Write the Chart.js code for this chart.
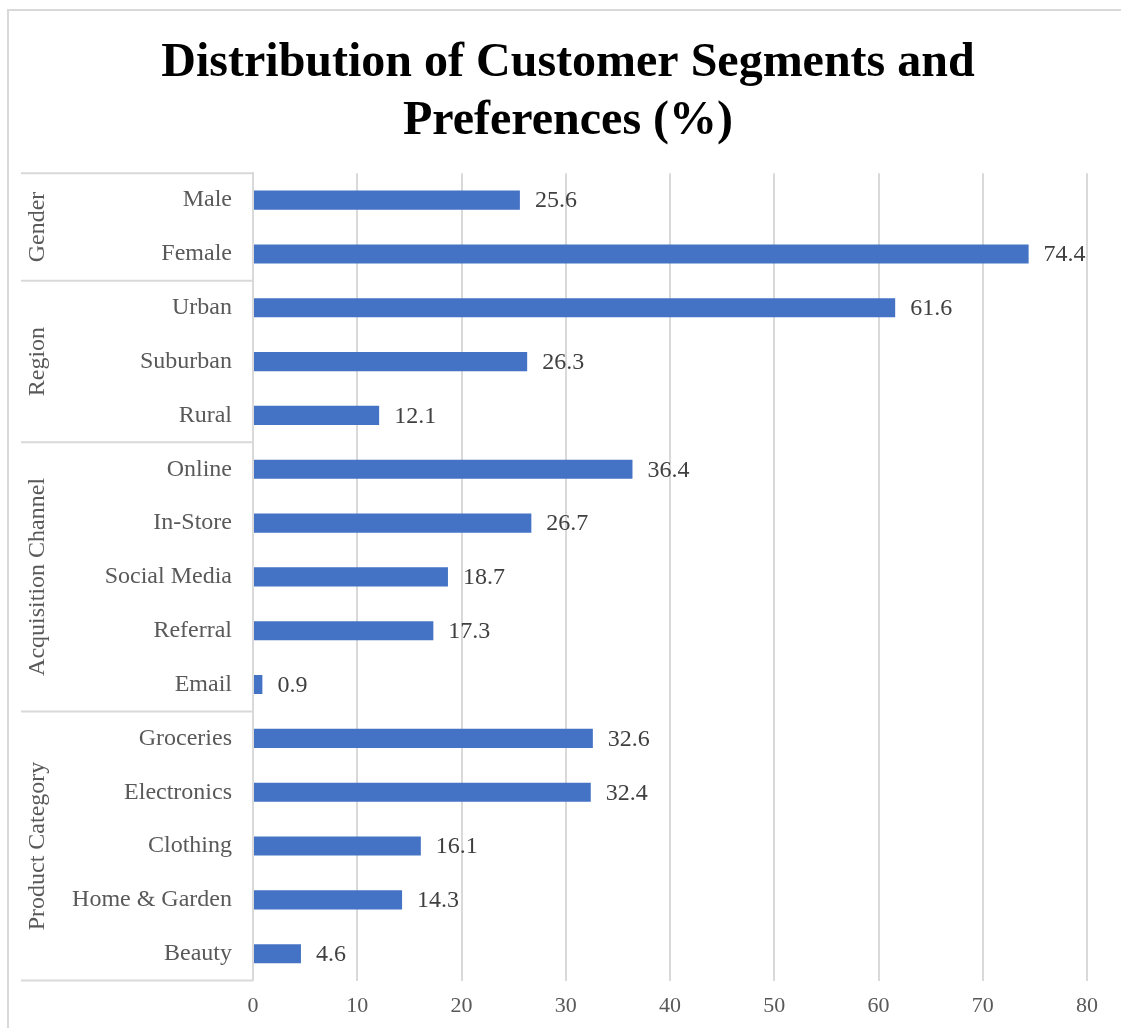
<!DOCTYPE html>
<html>
<head>
<meta charset="utf-8">
<title>Distribution of Customer Segments and Preferences (%)</title>
<script src="https://cdn.jsdelivr.net/npm/chart.js@4.4.1/dist/chart.umd.min.js"></script>
<style>
  html, body { margin: 0; padding: 0; background: #fff; }
  canvas { display: block; }
</style>
</head>
<body>
<canvas id="segChart" width="1121" height="1028"></canvas>
<script>
const categories = ['Male', 'Female', 'Urban', 'Suburban', 'Rural', 'Online', 'In-Store',
  'Social Media', 'Referral', 'Email', 'Groceries', 'Electronics', 'Clothing',
  'Home & Garden', 'Beauty'];
const values = [25.6, 74.4, 61.6, 26.3, 12.1, 36.4, 26.7, 18.7, 17.3, 0.9, 32.6, 32.4, 16.1, 14.3, 4.6];
const groups = ['Gender', 'Region', 'Acquisition Channel', 'Product Category'];
const groupSizes = [2, 3, 5, 5];

const serif = '"Liberation Serif", "Times New Roman", serif';
const lineGray = '#d9d9d9';
const textGray = '#595959';

// outer frame, group labels and separators on the category side
const groupAxis = {
  id: 'groupAxis',
  beforeDraw(chart) {
    const ctx = chart.ctx;
    ctx.save();
    ctx.strokeStyle = lineGray;
    ctx.lineWidth = 2;
    ctx.beginPath();
    ctx.moveTo(8, chart.height);
    ctx.lineTo(8, 10);
    ctx.lineTo(chart.width, 10);
    ctx.stroke();
    ctx.restore();
  },
  afterDraw(chart) {
    const ctx = chart.ctx;
    const y = chart.scales.y;
    const left = chart.chartArea.left;
    const half = (y.getPixelForValue(1) - y.getPixelForValue(0)) / 2;
    ctx.save();
    ctx.strokeStyle = lineGray;
    ctx.lineWidth = 2;
    ctx.fillStyle = textGray;
    ctx.font = '24px ' + serif;
    ctx.textAlign = 'center';
    ctx.textBaseline = 'middle';
    let start = 0;
    groups.forEach((name, i) => {
      const top = y.getPixelForValue(start) - half;
      const bottom = y.getPixelForValue(start + groupSizes[i] - 1) + half;
      ctx.beginPath();
      ctx.moveTo(21, top);
      ctx.lineTo(left, top);
      if (i === groups.length - 1) {
        ctx.moveTo(21, bottom);
        ctx.lineTo(left, bottom);
      }
      ctx.stroke();
      ctx.save();
      ctx.translate(38, (top + bottom) / 2);
      ctx.rotate(-Math.PI / 2);
      ctx.fillText(name, 0, 0);
      ctx.restore();
      start += groupSizes[i];
    });
    ctx.restore();
  }
};

// value labels at the end of each bar
const valueLabels = {
  id: 'valueLabels',
  afterDatasetsDraw(chart) {
    const ctx = chart.ctx;
    const meta = chart.getDatasetMeta(0);
    ctx.save();
    ctx.fillStyle = '#404040';
    ctx.font = '24px ' + serif;
    ctx.textAlign = 'left';
    ctx.textBaseline = 'middle';
    meta.data.forEach((bar, i) => {
      ctx.fillText(values[i].toFixed(1), bar.x + 15, bar.y + 1);
    });
    ctx.restore();
  }
};

new Chart(document.getElementById('segChart'), {
  type: 'bar',
  data: {
    labels: categories,
    datasets: [{
      data: values,
      backgroundColor: '#4472c4',
      barPercentage: 0.355,
      categoryPercentage: 1
    }]
  },
  options: {
    indexAxis: 'y',
    responsive: false,
    animation: false,
    layout: { padding: { left: 49, right: 34, top: 0, bottom: -3 } },
    plugins: {
      legend: { display: false },
      tooltip: { enabled: false },
      title: {
        display: true,
        text: ['Distribution of Customer Segments and', 'Preferences (%)'],
        color: '#000',
        font: { family: serif, size: 48, weight: 'bold', lineHeight: 1.2 },
        padding: { top: 35, bottom: 23 }
      }
    },
    scales: {
      x: {
        min: 0,
        max: 80,
        ticks: { stepSize: 10, color: textGray, padding: 12, font: { family: serif, size: 22 } },
        grid: { color: lineGray, lineWidth: 2, drawTicks: false },
        border: { display: false }
      },
      y: {
        afterFit(scale) { scale.width = 204; },
        ticks: { color: textGray, padding: 21, font: { family: serif, size: 24 } },
        grid: { display: false, drawTicks: false },
        border: { display: true, color: lineGray, width: 2 }
      }
    }
  },
  plugins: [groupAxis, valueLabels]
});
</script>
</body>
</html>
